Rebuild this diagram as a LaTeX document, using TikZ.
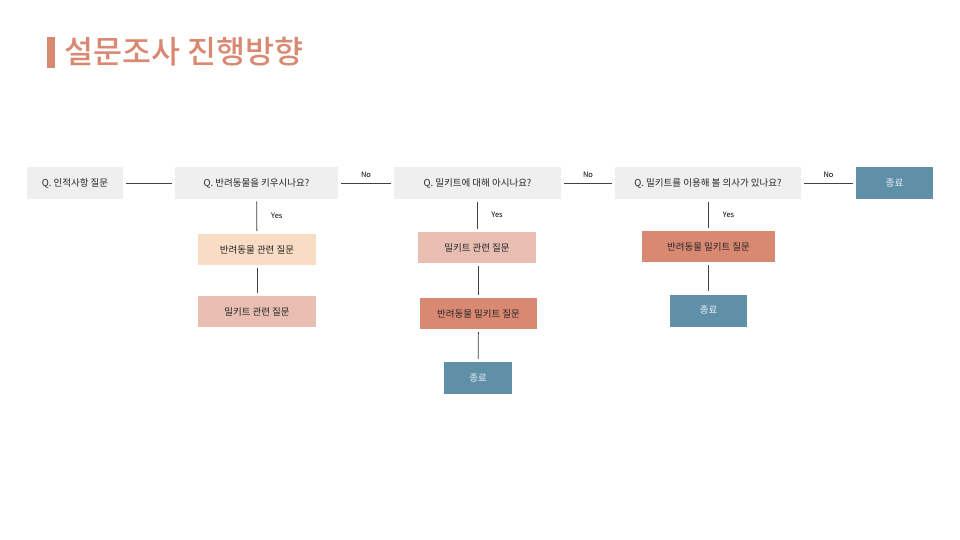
\documentclass[tikz,border=0pt]{standalone}
\usepackage{fontspec}
\setmainfont{Noto Sans CJK KR}
\newfontfamily\titlefont{Noto Sans CJK KR Medium}
\usetikzlibrary{positioning}
\definecolor{mgray}{rgb}{0.937, 0.937, 0.937}
\definecolor{mpeach}{rgb}{0.973, 0.863, 0.765}
\definecolor{mpink}{rgb}{0.910, 0.745, 0.698}
\definecolor{msalmon}{rgb}{0.851, 0.533, 0.447}
\definecolor{mteal}{rgb}{0.376, 0.561, 0.659}
\definecolor{mtext}{rgb}{0.15, 0.15, 0.15}
\definecolor{mline}{rgb}{0.25, 0.25, 0.25}
\tikzset{box/.style = {inner sep = 0, minimum height = 31, text = mtext, font = \fontsize{9.5}{11}\selectfont}}
\tikzset{qbox/.style = {box, fill = mgray}}
\tikzset{endbox/.style = {box, fill = mteal, text = white!88!mteal, minimum height = 32}}
\tikzset{link/.style = {draw = mline, line width = 0.8, shorten > = 3pt, shorten < = 3pt}}
\tikzset{lbl/.style = {font = \fontsize{7.5}{8}\selectfont, text = black, inner sep = 1pt}}

\begin{document}
\begin{tikzpicture}[x = 1pt, y = -1pt]
      \useasboundingbox (0, 0) rectangle (960, 540);

      \fill [msalmon] (47, 37) rectangle (55, 68);
      \node [anchor = west, msalmon, inner sep = 0, font = \titlefont\fontsize{31.5}{34}\selectfont] (title) at (64, 52) {설문조사 진행방향};

      \node [qbox, minimum width = 96] (q1) at (75, 183) {Q. 인적사항 질문};
      \node [qbox, minimum width = 163] (q2) at (256.5, 183) {Q. 반려동물을 키우시나요?};
      \node [qbox, minimum width = 167] (q3) at (477.5, 183) {Q. 밀키트에 대해 아시나요?};
      \node [qbox, minimum width = 186] (q4) at (708, 183) {Q. 밀키트를 이용해 볼 의사가 있나요?};
      \node [endbox, minimum width = 77] (end1) at (894.5, 183) {종료};

      \node [box, fill = mpeach, minimum width = 118] (pet) at (257, 249.5) {반려동물 관련 질문};
      \node [box, fill = mpink, minimum width = 118] (kit) at (257, 311.5) {밀키트 관련 질문};

      \node [box, fill = mpink, minimum width = 118] (kit2) at (477, 247.5) {밀키트 관련 질문};
      \node [box, fill = msalmon, minimum width = 117] (petkit) at (478.5, 313.5) {반려동물 밀키트 질문};
      \node [endbox, minimum width = 68] (end2) at (478, 378) {종료};

      \node [box, fill = msalmon, minimum width = 133] (petkit2) at (708.5, 246.5) {반려동물 밀키트 질문};
      \node [endbox, minimum width = 77] (end3) at (708.5, 310.5) {종료};

      \draw [link] (q1) -- (q2);
      \draw [link] (q2) -- node [lbl, midway, above = 4pt] {No} (q3);
      \draw [link] (q3) -- node [lbl, midway, above = 4pt] {No} (q4);
      \draw [link] (q4) -- node [lbl, midway, above = 4pt] {No} (end1);

      \draw [link] (q2) -- node [lbl, midway, right = 13pt] {Yes} (pet);
      \draw [link] (pet) -- (kit);

      \draw [link] (q3.south -| kit2) -- node [lbl, midway, right = 13pt] {Yes} (kit2);
      \draw [link] (kit2.south -| petkit) -- (petkit);
      \draw [link] (petkit) -- (end2);

      \draw [link] (q4.south -| petkit2) -- node [lbl, midway, right = 13pt] {Yes} (petkit2);
      \draw [link] (petkit2) -- (end3);
    \end{tikzpicture}
\end{document}
